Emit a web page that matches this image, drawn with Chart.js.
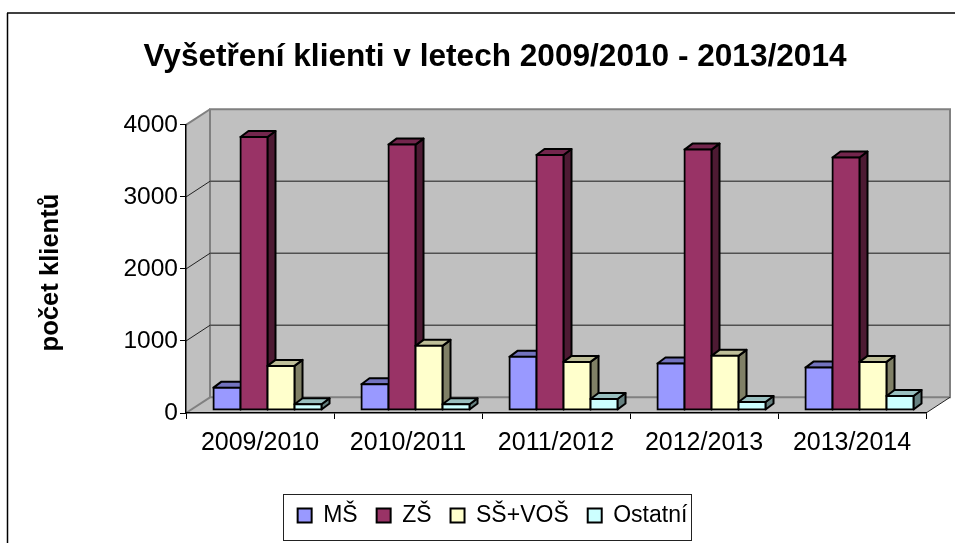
<!DOCTYPE html>
<html lang="cs">
<head>
    <meta charset="UTF-8">
    <title>Vyšetření klienti</title>
    <script src="https://cdn.jsdelivr.net/npm/chart.js"></script>
    <style>
        html, body { margin: 0; padding: 0; background: #fff; overflow: hidden; }
        canvas { display: block; }
    </style>
</head>
<body>
    <canvas id="chart" width="955" height="543"></canvas>
    <script>
        const years = ['2009/2010', '2010/2011', '2011/2012', '2012/2013', '2013/2014'];
        const seriesNames = ['MŠ', 'ZŠ', 'SŠ+VOŠ', 'Ostatní'];
        const ms = [310, 358, 738, 645, 589];
        const zs = [3790, 3685, 3540, 3616, 3505];
        const ssVos = [612, 891, 668, 752, 668];
        const ostatni = [79, 79, 153, 111, 195];

        const seriesValues = [ms, zs, ssVos, ostatni];
        const front = ['#9999ff', '#993366', '#ffffcc', '#ccffff'];
        const topFace = ['#7373bf', '#73264d', '#bfbf99', '#99bfbf'];
        const sideFace = ['#4d4d80', '#4d1a33', '#808066', '#668080'];

        const FONT = '"Liberation Sans", Arial, sans-serif';
        // depth of the back wall and of a single bar
        const wallDx = 24, wallDy = -15.7;
        const barDx = 8, barDy = -6;
        // bars stand a little inside the floor
        const shiftX = 7.5, shiftY = -3;

        function poly(ctx, pts, fill, stroke, width) {
            ctx.beginPath();
            pts.forEach((p, i) => i ? ctx.lineTo(p[0], p[1]) : ctx.moveTo(p[0], p[1]));
            ctx.closePath();
            if (fill) { ctx.fillStyle = fill; ctx.fill(); }
            if (stroke) { ctx.strokeStyle = stroke; ctx.lineWidth = width; ctx.stroke(); }
        }

        function line(ctx, x1, y1, x2, y2, color, width) {
            ctx.beginPath();
            ctx.moveTo(x1, y1);
            ctx.lineTo(x2, y2);
            ctx.strokeStyle = color;
            ctx.lineWidth = width;
            ctx.stroke();
        }

        // frame, walls, floor and gridlines behind the bars
        const walls = {
            id: 'walls',
            beforeDraw(chart) {
                const ctx = chart.ctx;
                const a = chart.chartArea;
                const y = chart.scales.y;
                ctx.save();
                line(ctx, 7, 13, chart.width, 13, '#404040', 2);
                line(ctx, 7.5, 13, 7.5, chart.height, '#000', 1.5);

                const L = a.left, R = a.right, T = a.top, B = a.bottom;
                poly(ctx, [[L, T], [L + wallDx, T + wallDy], [L + wallDx, B + wallDy], [L, B]], '#c0c0c0');
                poly(ctx, [[L, B], [L + wallDx, B + wallDy], [R + wallDx, B + wallDy], [R, B]], '#c0c0c0');
                poly(ctx, [[L + wallDx, T + wallDy], [R + wallDx, T + wallDy], [R + wallDx, B + wallDy], [L + wallDx, B + wallDy]], '#c0c0c0', '#808080', 2);

                y.ticks.forEach(t => {
                    const py = y.getPixelForValue(t.value);
                    if (t.value > 0 && t.value < 4000) {
                        line(ctx, L + wallDx, py + wallDy, R + wallDx, py + wallDy, '#505050', 1.5);
                        line(ctx, L, py, L + wallDx, py + wallDy, '#222', 1);
                    }
                });
                line(ctx, L, B, L + wallDx, B + wallDy, '#808080', 2);
                line(ctx, L, T, L + wallDx, T + wallDy, '#808080', 2);
                line(ctx, R, B, R + wallDx, B + wallDy, '#222', 1);
                ctx.restore();
            },
            // title and legend go where the original has them
            afterLayout(chart) {
                const tb = chart.titleBlock;
                tb.left += 32;
                tb.right += 32;
                const lg = chart.legend;
                const w = lg.right - lg.left;
                lg.left += 29.5;
                lg.right = lg.left + w;
                lg.top = 485;
                lg.bottom = 543;
            },
            afterDraw(chart) {
                const ctx = chart.ctx;
                ctx.save();
                ctx.strokeStyle = '#222';
                ctx.lineWidth = 1;
                ctx.strokeRect(283.5, 494.5, 408, 46);
                ctx.restore();
            }
        };

        // draws the datasets first to last so each bar covers the side of the previous one
        const bars3d = {
            id: 'bars3d',
            beforeDatasetsDraw(chart) {
                const ctx = chart.ctx;
                ctx.save();
                ctx.translate(shiftX, shiftY);
                seriesValues.forEach((values, i) => {
                    chart.getDatasetMeta(i).data.forEach(el => {
                        const l = el.x - el.width / 2, r = el.x + el.width / 2;
                        const t = el.y, b = el.base;
                        ctx.lineJoin = 'round';
                        poly(ctx, [[r, t], [r + barDx, t + barDy], [r + barDx, b + barDy], [r, b]], sideFace[i], '#000', 2);
                        poly(ctx, [[l, t], [l + barDx, t + barDy], [r + barDx, t + barDy], [r, t]], topFace[i], '#000', 2);
                        el.draw(ctx);
                    });
                });
                ctx.restore();
                return false;
            }
        };

        new Chart(document.getElementById('chart'), {
            type: 'bar',
            data: {
                labels: years,
                datasets: seriesNames.map((name, i) => ({
                    label: name,
                    data: seriesValues[i],
                    backgroundColor: front[i],
                    borderColor: '#000',
                    // with the inflate the 2px outline sits centred on the bar edge
                    borderWidth: 2,
                    inflateAmount: 1,
                    borderSkipped: false,
                    barPercentage: 1,
                    categoryPercentage: 0.73
                }))
            },
            options: {
                responsive: false,
                animation: false,
                devicePixelRatio: 1,
                layout: { padding: { left: 0, right: 29, top: 0, bottom: 27 } },
                plugins: {
                    tooltip: { enabled: false },
                    title: {
                        display: true,
                        text: 'Vyšetření klienti v letech 2009/2010 - 2013/2014',
                        color: '#000',
                        font: { family: FONT, size: 31.6, weight: 'bold', lineHeight: 1.2 },
                        padding: { top: 38, bottom: 49 }
                    },
                    legend: {
                        position: 'bottom',
                        labels: {
                            color: '#000',
                            font: { family: FONT, size: 23 },
                            boxWidth: 14,
                            boxHeight: 14,
                            padding: 19,
                            generateLabels(chart) {
                                return seriesNames.map((name, i) => ({
                                    text: name,
                                    fillStyle: front[i],
                                    strokeStyle: '#000',
                                    lineWidth: 2,
                                    datasetIndex: i
                                }));
                            }
                        }
                    }
                },
                scales: {
                    x: {
                        afterFit(scale) { scale.height = 51; },
                        grid: { drawOnChartArea: false, color: '#000', tickLength: 6, tickColor: '#000' },
                        border: { color: '#000', width: 1.5 },
                        ticks: { color: '#000', font: { family: FONT, size: 25 }, padding: 9, maxRotation: 0 }
                    },
                    y: {
                        min: 0,
                        max: 4000,
                        afterFit(scale) { scale.width = 186; },
                        title: {
                            display: true,
                            text: 'počet klientů ',
                            color: '#000',
                            font: { family: FONT, size: 25.6, weight: 'bold' },
                            padding: { top: 36, bottom: 0 }
                        },
                        grid: { drawOnChartArea: false, color: '#000', tickLength: 6, tickColor: '#000' },
                        border: { color: '#000', width: 1.5 },
                        ticks: {
                            color: '#000',
                            font: { family: FONT, size: 24.5 },
                            stepSize: 1000,
                            padding: 2,
                            callback: v => String(v)
                        }
                    }
                }
            },
            plugins: [walls, bars3d]
        });
    </script>
</body>
</html>
